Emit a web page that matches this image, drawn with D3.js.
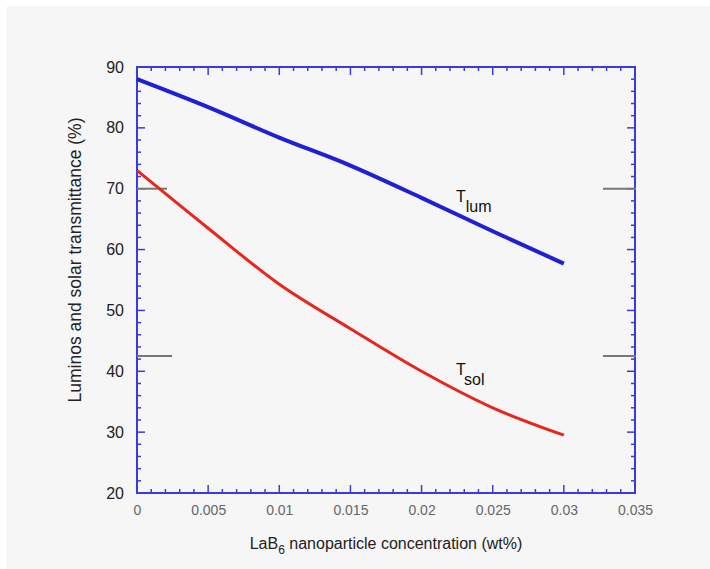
<!DOCTYPE html>
<html><head><meta charset="utf-8">
<script src="https://cdn.jsdelivr.net/npm/d3@7"></script>
<style>body{margin:0;background:#fff;}svg{display:block;font-family:"Liberation Sans",Arial,sans-serif;}</style>
</head><body>
<svg id="c" width="710" height="569"></svg>
<script>
const conc = [0, 0.005, 0.01, 0.015, 0.02, 0.025, 0.03];
const tLum = [88, 83.4, 78.4, 73.8, 68.5, 63, 57.7];
const tSol = [73, 63.5, 54.3, 47, 40, 34, 29.5];
const xTicks = [0, 0.005, 0.01, 0.015, 0.02, 0.025, 0.03, 0.035];
const yTicks = [20, 30, 40, 50, 60, 70, 80, 90];
const markLevels = [70, 42.5];

const svg = d3.select("#c");
svg.append("rect").attr("x",7).attr("y",6).attr("width",703).attr("height",563).attr("fill","#f6f6f6");
const L=137,R=635,T=67,B=493;
const x = d3.scaleLinear().domain([0,0.035]).range([L,R]);
const y = d3.scaleLinear().domain([20,90]).range([B,T]);
const axC = "#3a3ae0";

// minor ticks
const xMinor = d3.range(0, 0.0351, 0.001);
const yMinor = d3.range(20, 90.1, 2);
const g = svg.append("g");
xMinor.forEach(v=>{
  const major = xTicks.some(t=>Math.abs(t-v)<1e-6);
  const len = major?8:4;
  g.append("line").attr("x1",x(v)).attr("x2",x(v)).attr("y1",B).attr("y2",B-len).attr("stroke",axC).attr("stroke-width",1.5);
  g.append("line").attr("x1",x(v)).attr("x2",x(v)).attr("y1",T).attr("y2",T+len).attr("stroke",axC).attr("stroke-width",1.5);
});
yMinor.forEach(v=>{
  const major = yTicks.some(t=>Math.abs(t-v)<1e-6);
  const len = major?8:4;
  g.append("line").attr("y1",y(v)).attr("y2",y(v)).attr("x1",L).attr("x2",L+len).attr("stroke",axC).attr("stroke-width",1.5);
  g.append("line").attr("y1",y(v)).attr("y2",y(v)).attr("x1",R).attr("x2",R-len).attr("stroke",axC).attr("stroke-width",1.5);
});
svg.append("rect").attr("x",L).attr("y",T).attr("width",R-L).attr("height",B-T).attr("fill","none").attr("stroke",axC).attr("stroke-width",2);

// tick labels
const xa = d3.axisBottom(x).tickValues(xTicks).tickSize(0).tickPadding(0).tickFormat(d=>d===0?"0":String(+d.toFixed(3)));
const xg = svg.append("g").attr("transform",`translate(0,${B+12})`).call(xa);
xg.select(".domain").remove();
xg.selectAll("text").attr("font-size",14).attr("fill","#666").attr("font-family","Liberation Sans, Arial, sans-serif");
const ya = d3.axisLeft(y).tickValues(yTicks).tickSize(0).tickPadding(0);
const yg = svg.append("g").attr("transform",`translate(${L-13},0)`).call(ya);
yg.select(".domain").remove();
yg.selectAll("text").attr("font-size",16).attr("fill","#222").attr("font-family","Liberation Sans, Arial, sans-serif");

// gray marks
markLevels.forEach((v,i)=>{
  svg.append("line").attr("x1",L).attr("x2",L+(i?35:30)).attr("y1",y(v)).attr("y2",y(v)).attr("stroke","#777").attr("stroke-width",2);
  svg.append("line").attr("x1",R-32).attr("x2",R+1).attr("y1",y(v)).attr("y2",y(v)).attr("stroke","#777").attr("stroke-width",2);
});

// lines
const line = d3.line().x(d=>x(d[0])).y(d=>y(d[1])).curve(d3.curveMonotoneX);
svg.append("path").datum(conc.map((c,i)=>[c,tSol[i]])).attr("d",line).attr("fill","none").attr("stroke","#e8261c").attr("stroke-width",3);
svg.append("path").datum(conc.map((c,i)=>[c,tLum[i]])).attr("d",line).attr("fill","none").attr("stroke","#1f1fd8").attr("stroke-width",4);

// labels
function sublabel(xp,yp,main,sub){
  const t = svg.append("text").attr("x",xp).attr("y",yp).attr("font-size",16).attr("fill","#111");
  t.append("tspan").text(main);
  t.append("tspan").attr("dy",10).text(sub);
}
sublabel(456,202,"T","lum");
sublabel(456,375,"T","sol");

const xl = svg.append("text").attr("x",386).attr("y",549).attr("text-anchor","middle").attr("font-size",16).attr("fill","#222");
xl.append("tspan").text("LaB");
xl.append("tspan").attr("dy",5).attr("font-size",12).text("6");
xl.append("tspan").attr("dy",-5).text(" nanoparticle concentration (wt%)");

svg.append("text").attr("transform","translate(81,260) rotate(-90)").attr("text-anchor","middle").attr("font-size",17.5).attr("fill","#222").text("Luminos and solar transmittance (%)");
</script>
</body></html>
